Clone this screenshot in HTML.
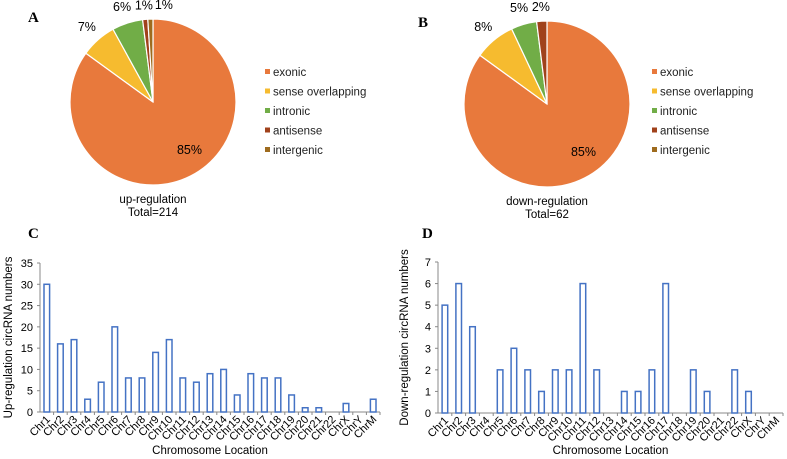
<!DOCTYPE html>
<html><head><meta charset="utf-8">
<style>
html,body{margin:0;padding:0;background:#fff;}
svg{display:block;font-family:"Liberation Sans",Arial,sans-serif;}
.pl{font-family:"Liberation Serif",serif;font-size:15px;font-weight:bold;}
</style></head>
<body>
<svg id="fig" width="787" height="459" viewBox="0 0 787 459"></svg>
<script>
const sliceNames = ["exonic","sense overlapping","intronic","antisense","intergenic"];
const sliceColors = ["#E8793C","#F6BB2F","#71AD47","#A0421B","#9E6B1E"];
const upPct = [85,7,6,1,1];
const downPct = [85,8,5,2,0];
const chrCats = ["Chr1","Chr2","Chr3","Chr4","Chr5","Chr6","Chr7","Chr8","Chr9","Chr10","Chr11","Chr12","Chr13","Chr14","Chr15","Chr16","Chr17","Chr18","Chr19","Chr20","Chr21","Chr22","ChrX","ChrY","ChrM"];
const upCounts = [30,16,17,3,7,20,8,8,14,17,8,7,9,10,4,9,8,8,4,1,1,0,2,0,3];
const downCounts = [5,6,4,0,2,3,2,1,2,2,6,2,0,1,1,2,6,0,2,1,0,2,1,0,0];
const upTicks = [0,5,10,15,20,25,30,35];
const downTicks = [0,1,2,3,4,5,6,7];

const NS="http://www.w3.org/2000/svg";
const svg=document.getElementById('fig');
function mk(tag,attrs,parent){const e=document.createElementNS(NS,tag);for(const k in attrs)e.setAttribute(k,attrs[k]);(parent||svg).appendChild(e);return e;}
function txt(x,y,s,attrs,parent){const t=mk('text',Object.assign({x:x,y:y},attrs||{}),parent);t.textContent=s;return t;}

function pie(cx,cy,r,vals,lx,ly,title1,title2,name){
  const g=mk('g',{});
  
  
  const tot=vals.reduce((a,b)=>a+b,0);
  let acc=0, lastX=null;
  vals.forEach((v,i)=>{
    if(v<=0){return;}
    const a0=acc/tot*2*Math.PI, a1=(acc+v)/tot*2*Math.PI;
    const x0=cx+r*Math.sin(a0), y0=cy-r*Math.cos(a0), x1=cx+r*Math.sin(a1), y1=cy-r*Math.cos(a1);
    const large=(a1-a0)>Math.PI?1:0;
    const p=mk('path',{d:`M${cx},${cy}L${x0},${y0}A${r},${r} 0 ${large} 1 ${x1},${y1}Z`,fill:sliceColors[i],stroke:'#fff','stroke-width':1.2},g);
    
    
    const am=(a0+a1)/2;
    let rr, dx=0;
    if(v/tot>0.5){rr=r*0.65;dx=12;}else{rr=r+(v/tot<0.03?14:17);}
    let x=cx+rr*Math.sin(am)+dx, y=cy-rr*Math.cos(am)+4;
    if(v/tot<0.03 && lastX!==null && x-lastX<20){x=lastX+20;}
    if(v/tot<0.03){lastX=x;}
    const t=txt(x,y,v+'%',{'font-size':12.5,'text-anchor':'middle',fill:'#000'},g);
    
    
    acc+=v;
  });
  sliceNames.forEach((n,i)=>{
    const y=ly+i*19.5;
    const m=mk('rect',{x:lx,y:y-3,width:5,height:5,fill:sliceColors[i]},g);
    
    
    const t=txt(lx+8,y+4,n,{'font-size':11.5,fill:'#222'},g);
    
    
  });
  const t1=txt(cx,cy+r+18,title1,{'font-size':11.5,'text-anchor':'middle'},g);
  
  
  const t2=txt(cx,cy+r+31,title2,{'font-size':11.5,'text-anchor':'middle'},g);
  
  
}

function bars(x0,x1,y0,y1,vals,ticks,ytitle,ytx,name){
  const g=mk('g',{});
  
  
  const maxV=ticks[ticks.length-1];
  const ys=v=>y0-(v/maxV)*(y0-y1);
  const step=(x1-x0)/chrCats.length;
  const xs=i=>x0+step*(i+0.5);
  const ax=mk('line',{x1:x0,y1:y0,x2:x1,y2:y0,stroke:'#888','stroke-width':1},g);
  
  
  const ay=mk('line',{x1:x0,y1:y0,x2:x0,y2:y1,stroke:'#888','stroke-width':1},g);
  
  
  ticks.forEach(tv=>{
    mk('line',{x1:x0-3,y1:ys(tv),x2:x0,y2:ys(tv),stroke:'#888'},g);
    const t=txt(x0-7,ys(tv)+4,String(tv),{'font-size':11,'text-anchor':'end'},g);
    
    
  });
  chrCats.forEach((c,i)=>{
    const tx=x0+step*(i+1);
    mk('line',{x1:tx,y1:y0,x2:tx,y2:y0+3,stroke:'#888'},g);
    const v=vals[i];
    if(v>0){
      const b=mk('rect',{x:xs(i)-2.8,y:ys(v),width:5.6,height:y0-ys(v),fill:'#fff',stroke:'#4472C4','stroke-width':1.5},g);
      
      
    }
    const lx=xs(i)+4, ly=y0+8;
    const t=txt(lx,ly,c,{'font-size':11,'text-anchor':'end',transform:`rotate(-45 ${lx} ${ly})`},g);
    
    
  });
  const xt=txt((x0+x1)/2,454,'Chromosome Location',{'font-size':11.5,'text-anchor':'middle'},g);
  
  
  const yc=(y0+y1)/2;
  const yt=txt(ytx,yc,ytitle,{'font-size':11.5,'text-anchor':'middle',transform:`rotate(-90 ${ytx} ${yc})`},g);
  
  
}

pie(153,102,83,upPct,265,72,'up-regulation','Total=214','pie-up-regulation');
pie(547,104,83,downPct,652,72,'down-regulation','Total=62','pie-down-regulation');
bars(40,380,412,263,upCounts,upTicks,'Up-regulation circRNA numbers',12,'bar-chart-up');
bars(438,783,413,262,downCounts,downTicks,'Down-regulation circRNA numbers',408,'bar-chart-down');

[['A',28,22],['B',418,27],['C',28,238],['D',422,238]].forEach(p=>{
  const t=txt(p[1],p[2],p[0],{'class':'pl'});
  
  
});
</script>
</body></html>
